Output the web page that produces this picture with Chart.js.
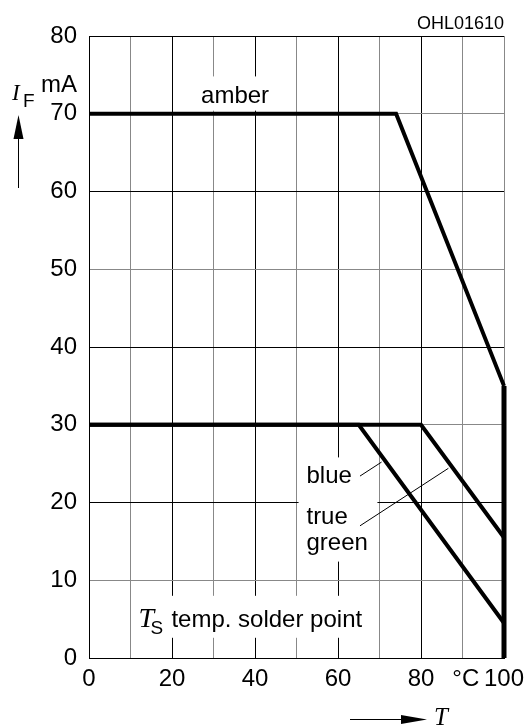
<!DOCTYPE html>
<html>
<head>
<meta charset="utf-8">
<script src="https://cdn.jsdelivr.net/npm/chart.js@4/dist/chart.umd.min.js"></script>
<style>
  html, body { margin: 0; padding: 0; background: #fff; }
  #wrap { width: 526px; height: 727px; }
</style>
</head>
<body>
<div id="wrap"><canvas id="derating" width="526" height="727"></canvas></div>
<script>
// I_F = f(T_S) derating curve, OHL01610

// axis ticks
const tempTicks = [0, 10, 20, 30, 40, 50, 60, 70, 80, 90, 100];
const tempTickLabels = ["0", "", "20", "", "40", "", "60", "", "80", " °C", "100"];
const currentTicks = [0, 10, 20, 30, 40, 50, 60, 70, 80];
const currentTickLabels = ["0", "10", "20", "30", "40", "50", "60", "70", "80"];

// curves (T in °C, I_F in mA)
const amberTemp = [0, 74, 100];
const amberCurrent = [70, 70, 35];
const blueTemp = [0, 65, 100];
const blueCurrent = [30, 30, 4.5];
const greenTemp = [0, 80, 100];
const greenCurrent = [30, 30, 15.5];
const edgeTemp = [100, 100];
const edgeCurrent = [0, 35];

// leader lines for the labels
const blueLeaderTemp = [65.3, 70.5];
const blueLeaderCurrent = [23.4, 25.2];
const greenLeaderTemp = [65.3, 86.6];
const greenLeaderCurrent = [17.0, 24.4];

const SANS = "'Liberation Sans', Arial, sans-serif";
const SERIF = "'Liberation Serif', 'Times New Roman', serif";

function toPoints(xs, ys) {
  return xs.map((x, i) => ({ x: x, y: ys[i] }));
}

function curve(xs, ys, width) {
  return {
    data: toPoints(xs, ys),
    borderColor: "#000",
    borderWidth: width,
    pointRadius: 0,
    tension: 0,
    borderJoinStyle: "miter",
    borderCapStyle: "butt",
    clip: false,
  };
}

// white boxes behind the labels, in data units [x0, x1, y0, y1]
const maskBoxes = [
  [24.6, 46.5, 70.4, 74.8],
  [50.5, 69.5, 12.4, 25.8],
  [10.7, 69.1, 2.6, 8.0],
];

const labelPlugin = {
  id: "ohlLabels",
  beforeDatasetsDraw(chart) {
    const { ctx } = chart;
    const x = chart.scales.x, y = chart.scales.y;
    ctx.save();
    ctx.fillStyle = "#fff";
    maskBoxes.forEach((b) => {
      const l = x.getPixelForValue(b[0]);
      const r = x.getPixelForValue(b[1]);
      const t = y.getPixelForValue(b[3]);
      const bt = y.getPixelForValue(b[2]);
      ctx.fillRect(l, t, r - l, bt - t);
    });
    ctx.restore();
  },
  afterDatasetsDraw(chart) {
    const { ctx } = chart;
    const x = chart.scales.x, y = chart.scales.y;
    ctx.save();
    ctx.fillStyle = "#000";
    ctx.textBaseline = "alphabetic";
    ctx.font = "24px " + SANS;

    ctx.textAlign = "center";
    ctx.fillText("amber", x.getPixelForValue(35.2), y.getPixelForValue(71.4));

    ctx.textAlign = "left";
    const lx = x.getPixelForValue(52.4);
    ctx.fillText("blue", lx, y.getPixelForValue(22.5));
    ctx.fillText("true", lx, y.getPixelForValue(17.2));
    ctx.fillText("green", lx, y.getPixelForValue(13.9));

    // T_S temp. solder point
    const tx = x.getPixelForValue(11.9);
    const ty = y.getPixelForValue(4.0);
    ctx.font = "italic 28px " + SERIF;
    ctx.fillText("T", tx, ty);
    ctx.font = "19px " + SANS;
    ctx.fillText("S", tx + 12, ty + 7);
    ctx.font = "24px " + SANS;
    ctx.fillText("temp. solder point", tx + 33, ty);
    ctx.restore();
  },
  afterDraw(chart) {
    const { ctx, chartArea } = chart;
    ctx.save();
    ctx.fillStyle = "#000";
    ctx.strokeStyle = "#000";
    ctx.textBaseline = "alphabetic";

    // drawing number
    ctx.font = "18px " + SANS;
    ctx.textAlign = "right";
    ctx.fillText("OHL01610", chartArea.right, 29);

    // y axis unit and symbol
    ctx.font = "24px " + SANS;
    ctx.fillText("mA", 77, 92);
    ctx.textAlign = "left";
    ctx.font = "italic 23px " + SERIF;
    ctx.fillText("I", 12, 100);
    ctx.font = "19px " + SANS;
    ctx.fillText("F", 23, 107);

    // up arrow
    ctx.lineWidth = 1;
    ctx.beginPath();
    ctx.moveTo(18.5, 188);
    ctx.lineTo(18.5, 135);
    ctx.stroke();
    ctx.beginPath();
    ctx.moveTo(18.5, 115);
    ctx.lineTo(13.5, 139);
    ctx.lineTo(23.5, 139);
    ctx.closePath();
    ctx.fill();

    // right arrow + T
    ctx.beginPath();
    ctx.moveTo(350, 719.5);
    ctx.lineTo(405, 719.5);
    ctx.stroke();
    ctx.beginPath();
    ctx.moveTo(427, 719.5);
    ctx.lineTo(401, 715);
    ctx.lineTo(401, 724);
    ctx.closePath();
    ctx.fill();
    ctx.font = "italic 25px " + SERIF;
    ctx.fillText("T", 434, 725);
    ctx.restore();
  },
};

function gridColor(ctx) {
  const v = ctx.tick ? ctx.tick.value : 0;
  if (v === 0) return "#000";
  return v % 20 === 0 && v !== 100 ? "#000" : "#888";
}

new Chart(document.getElementById("derating"), {
  type: "line",
  data: {
    datasets: [
      curve(amberTemp, amberCurrent, 4),
      curve(blueTemp, blueCurrent, 4),
      curve(greenTemp, greenCurrent, 4),
      curve(edgeTemp, edgeCurrent, 5),
      curve(blueLeaderTemp, blueLeaderCurrent, 1),
      curve(greenLeaderTemp, greenLeaderCurrent, 1),
    ],
  },
  options: {
    responsive: false,
    animation: false,
    devicePixelRatio: 1,
    layout: { padding: { top: 36, right: 22, left: 0, bottom: 0 } },
    plugins: { legend: { display: false }, tooltip: { enabled: false } },
    scales: {
      x: {
        type: "linear",
        min: 0,
        max: 100,
        afterBuildTicks: (s) => { s.ticks = tempTicks.map((v) => ({ value: v })); },
        afterFit: (s) => {
          s.height = 69;
          s.paddingLeft = 0;
          s.paddingRight = 0;
        },
        ticks: {
          autoSkip: false,
          maxRotation: 0,
          padding: 7,
          color: "#000",
          font: { family: SANS, size: 24 },
          callback: (v, i) => tempTickLabels[i],
        },
        grid: { color: gridColor, lineWidth: 1, drawTicks: false },
        border: { color: "#000", width: 1 },
      },
      y: {
        type: "linear",
        min: 0,
        max: 80,
        afterBuildTicks: (s) => { s.ticks = currentTicks.map((v) => ({ value: v })); },
        afterFit: (s) => {
          s.width = 89;
          s.paddingTop = 0;
          s.paddingBottom = 0;
        },
        ticks: {
          autoSkip: false,
          padding: 12,
          color: "#000",
          font: { family: SANS, size: 24 },
          callback: (v, i) => currentTickLabels[i],
        },
        grid: { color: gridColor, lineWidth: 1, drawTicks: false },
        border: { color: "#000", width: 1 },
      },
    },
  },
  plugins: [labelPlugin],
});
</script>
</body>
</html>
